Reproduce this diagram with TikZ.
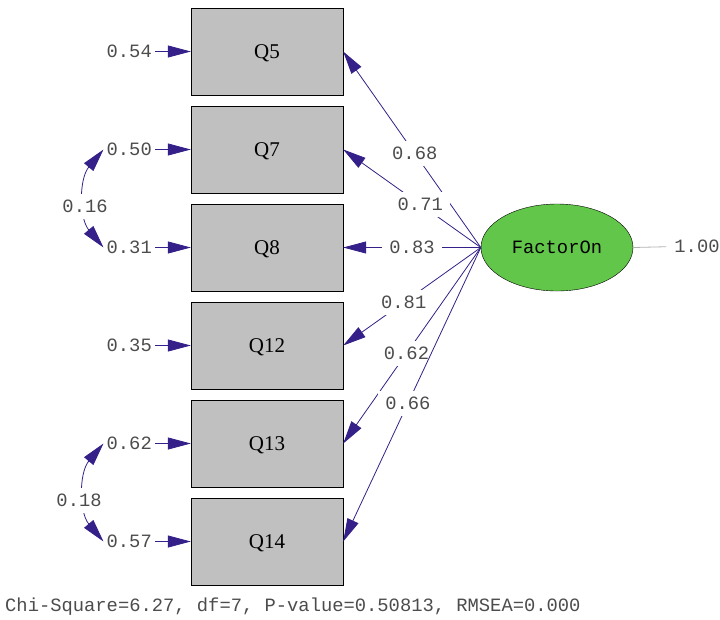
\documentclass[tikz,border=0pt]{standalone}
\usepackage{fontspec}
\setmainfont{Liberation Serif}
\setmonofont{Liberation Mono}
\usetikzlibrary{arrows.meta,shapes.geometric}
\definecolor{pathblue}{RGB}{52,32,136}
\definecolor{factorgreen}{RGB}{98,198,74}
\definecolor{boxgray}{RGB}{192,192,192}
\tikzset{
  obs/.style={draw,fill=boxgray,minimum width=152pt,minimum height=87pt,
    inner sep=0pt,text depth=0pt,font=\fontsize{21}{23}\selectfont},
  lat/.style={draw,ellipse,fill=factorgreen,minimum width=152pt,minimum height=87pt,
    inner sep=0pt,font=\ttfamily\fontsize{18.8}{20}\selectfont},
  num/.style={font=\ttfamily\fontsize{18.8}{20}\selectfont,text=black!70,inner sep=3pt},
  coef/.style={num,fill=white,inner xsep=7pt,inner ysep=6pt},
  tip/.tip={Triangle[length=23pt,width=12pt]},
  load/.style={draw=pathblue,line width=0.8pt,-tip},
  corr/.style={draw=pathblue,line width=0.8pt,tip-tip,bend right=40},
}
\begin{document}
\begin{tikzpicture}[x=1pt,y=-1pt]
  \useasboundingbox (0,0) rectangle (720,619);
  % indicators and their error terms
  \foreach \q/\y/\e in {5/51.5/0.54, 7/149.5/0.50, 8/247.5/0.31,
                        12/345.5/0.35, 13/443.5/0.62, 14/541.5/0.57} {
    \node[obs] (q\q) at (267,\y) {Q\q};
    \node[num,anchor=east] (e\q) at (155,\y) {\e};
    \draw[load] (e\q) -- (q\q);
  }
  \node[lat] (f) at (557,247.5) {FactorOn};
  \node[num,inner xsep=8pt] (fv) at (697,246) {1.00};
  \draw[black!30,line width=0.8pt] (f.east) -- (fv);
  % loadings
  \draw[load] (f.west) -- node[coef,pos=.48] {0.68} (q5.east);
  \draw[load] (f.west) -- node[coef,pos=.44] {0.71} (q7.east);
  \draw[load] (f.west) -- node[coef,pos=.5] {0.83} (q8.east);
  \draw[load] (f.west) -- node[coef,pos=.56] {0.81} (q12.east);
  \draw[load] (f.west) -- node[coef,pos=.54] {0.62} (q13.east);
  \draw[load] (f.west) -- node[coef,pos=.53] {0.66} (q14.east);
  % error covariances
  \draw[corr] (e7.west) to node[coef,inner xsep=2pt,yshift=-8pt] {0.16} (e8.west);
  \draw[corr] (e13.west) to node[coef,inner xsep=2pt,xshift=-6pt,yshift=-8pt] {0.18} (e14.west);
  \node[num,anchor=west,inner sep=0pt] (fit) at (5,607)
    {Chi-Square=6.27, df=7, P-value=0.50813, RMSEA=0.000};
\end{tikzpicture}
\end{document}
